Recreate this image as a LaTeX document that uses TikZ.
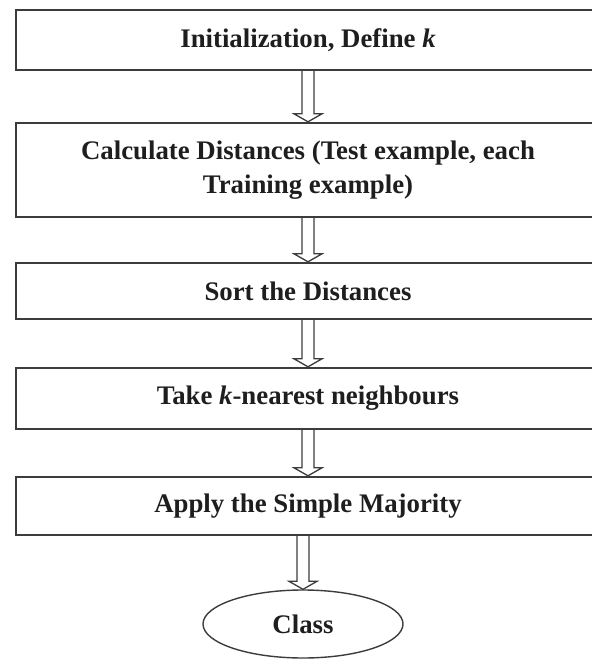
\documentclass[tikz,border=0pt]{standalone}
\usepackage{fontspec}
\setmainfont{Liberation Serif}
\usetikzlibrary{calc,shapes.geometric}
\definecolor{linec}{HTML}{3C3C3C}
\definecolor{textc}{HTML}{1E1E1E}
\tikzset{
  box/.style={draw=linec, line width=2.4pt, rectangle, minimum width=584pt,
    inner sep=0pt, align=center, text=textc,
    font=\fontsize{26.8}{34}\selectfont\bfseries},
  endnode/.style={draw=linec, line width=1.4pt, ellipse, minimum width=200pt,
    minimum height=68pt, inner sep=0pt, text=textc,
    font=\fontsize{26.8}{34}\selectfont\bfseries},
  harrow/.style={draw=linec, line width=1.3pt, line join=miter,
    to path={($(\tikztostart)+(-6pt,0)$) -- ($(\tikztotarget)+(-6pt,8pt)$)
      -- ($(\tikztotarget)+(-14pt,8pt)$) -- (\tikztotarget)
      -- ($(\tikztotarget)+(14pt,8pt)$) -- ($(\tikztotarget)+(6pt,8pt)$)
      -- ($(\tikztostart)+(6pt,0)$)}}
}
\begin{document}
\begin{tikzpicture}[x=1pt,y=1pt]
\path[use as bounding box, clip] (0,0) rectangle (592,-659);
\fill[white] (0,0) rectangle (592,-659);
\node[box, minimum height=60pt] (b1) at (308,-40) {Initialization, Define \textit{k}};
\node[box, minimum height=94pt] (b2) at (308,-170) {Calculate Distances (Test example, each\\Training example)};
\node[box, minimum height=56pt] (b3) at (308,-291) {Sort the Distances};
\node[box, minimum height=61pt] (b4) at (308,-398.5) {Take \textit{k}-nearest neighbours};
\node[box, minimum height=58pt] (b5) at (308,-506) {Apply the Simple Majority};
\node[endnode] (cls) at (303,-624) {Class};
\draw[harrow] (b1.south) to (b2.north);
\draw[harrow] (b2.south) to (b3.north);
\draw[harrow] (b3.south) to (b4.north);
\draw[harrow] (b4.south) to (b5.north);
\draw[harrow] (b5.south -| cls.north) to (cls.north);
\end{tikzpicture}
\end{document}
